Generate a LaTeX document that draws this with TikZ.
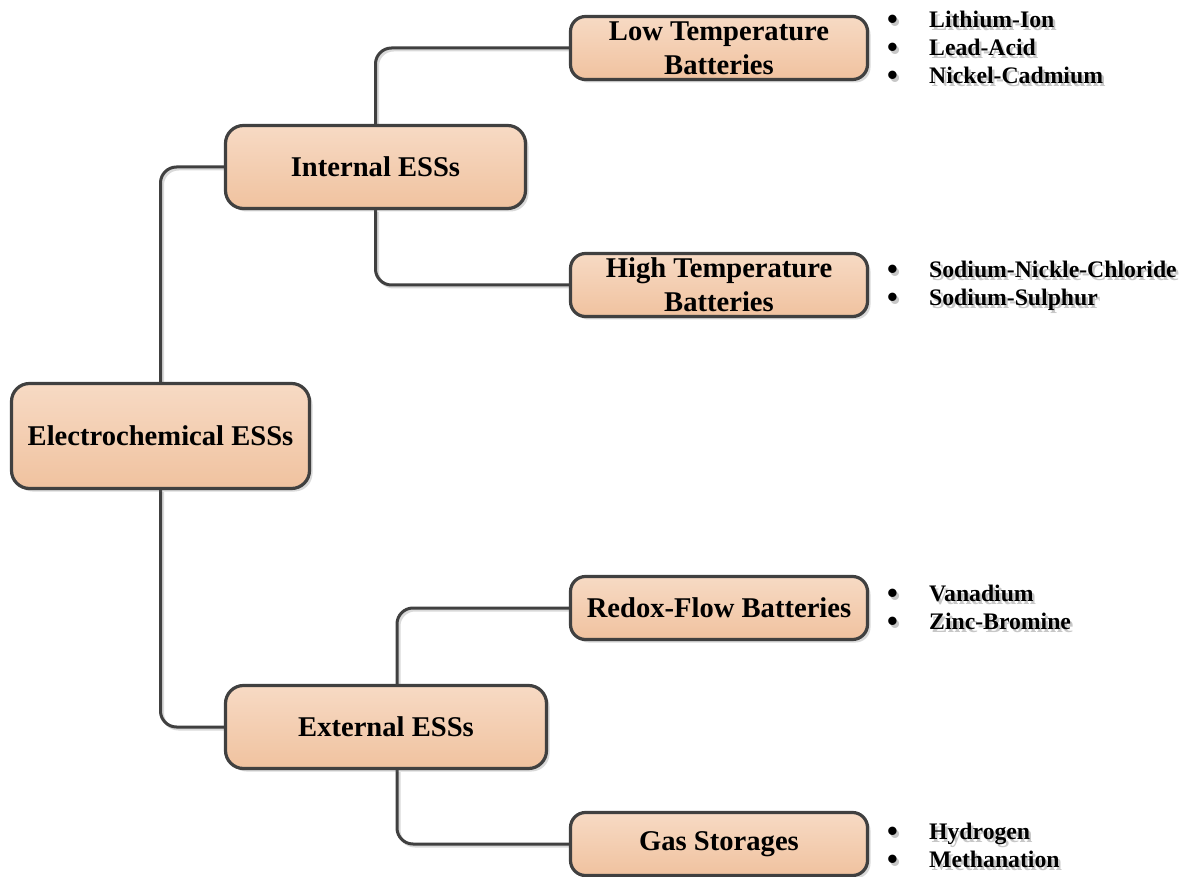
\documentclass[tikz,border=0pt]{standalone}
\usepackage{fontspec}
\setmainfont{Liberation Serif}
\usetikzlibrary{shadows,backgrounds}

\definecolor{boxtop}{HTML}{F7DAC4}
\definecolor{boxbottom}{HTML}{F0C29F}
\definecolor{edgegray}{HTML}{404040}

% text with a light grey shadow
\newcommand{\shtext}[1]{\makebox[0pt][l]{\hspace{2.5pt}\raisebox{-2.5pt}{\textcolor{black!22}{#1}}}#1}
\newcommand{\itm}[1]{\makebox[42pt][l]{\shtext{\raisebox{-2pt}{\scalebox{1.3}{\textbullet}}}}\shtext{#1}}

\begin{document}
\begin{tikzpicture}[
        x=1pt, y=-1pt,
        % rounded boxes with shading
        essbox/.style={
            rectangle,
            rounded corners=18pt,
            draw=edgegray,
            line width=3.2pt,
            top color=boxtop,
            bottom color=boxbottom,
            align=center,
            inner sep=0pt,
            font=\fontsize{28.6}{34}\selectfont\bfseries,
            drop shadow={shadow xshift=3pt, shadow yshift=-3pt, opacity=.25, fill=black!60}
        },
        smallbox/.style={
            essbox,
            rounded corners=15pt,
            minimum width=297pt,
            minimum height=63pt
        },
        % bullet lists
        itemlist/.style={
            anchor=north west,
            inner sep=0pt,
            align=left,
            font=\fontsize{23.7}{28}\selectfont\bfseries
        },
        % connectors
        link/.style={
            draw=edgegray,
            line width=3pt,
            rounded corners=16pt,
            preaction={draw=black!15, line width=3pt, transform canvas={shift={(2pt,-2pt)}}}
        }
    ]
        \useasboundingbox (0,0) rectangle (1197,877);

        % --- boxes ---
        \node[essbox, minimum width=298pt, minimum height=105pt] (elec) at (160.5,436) {Electrochemical ESSs};
        \node[essbox, minimum width=300pt, minimum height=83pt] (int) at (375.5,167) {Internal ESSs};
        \node[essbox, minimum width=321pt, minimum height=83pt] (ext) at (386,727) {External ESSs};

        \node[smallbox] (lowt) at (719,48) {Low Temperature\\Batteries};
        \node[smallbox] (hight) at (719,285) {High Temperature\\Batteries};
        \node[smallbox] (redox) at (719,608) {Redox-Flow Batteries};
        \node[smallbox] (gas) at (719,844) {Gas Storages};

        % --- lists ---
        \node[itemlist] (lowlist) at (887,11) {\itm{Lithium-Ion}\\\itm{Lead-Acid}\\\itm{Nickel-Cadmium}};
        \node[itemlist] (highlist) at (887,261) {\itm{Sodium-Nickle-Chloride}\\\itm{Sodium-Sulphur}};
        \node[itemlist] (redoxlist) at (887,585) {\itm{Vanadium}\\\itm{Zinc-Bromine}};
        \node[itemlist] (gaslist) at (887,823) {\itm{Hydrogen}\\\itm{Methanation}};

        % --- connectors ---
        \begin{scope}[on background layer]
            \draw[link] (elec.north) |- (int.west);
            \draw[link] (elec.south) |- (ext.west);
            \draw[link] (int.north) |- (lowt.west);
            \draw[link] (int.south) |- (hight.west);
            \draw[link] ([xshift=11pt]ext.north) |- (redox.west);
            \draw[link] ([xshift=11pt]ext.south) |- (gas.west);
        \end{scope}
\end{tikzpicture}
\end{document}
